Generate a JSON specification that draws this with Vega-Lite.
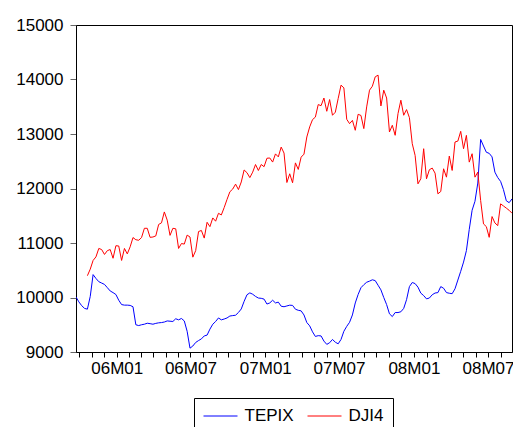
{
  "$schema": "https://vega.github.io/schema/vega-lite/v6.json",
  "autosize": {"type": "none"},
  "width": 436,
  "height": 327,
  "padding": {"left": 76, "top": 25, "right": 1, "bottom": 75},
  "background": "white",
  "config": {
    "view": {"stroke": "black", "strokeWidth": 1},
    "font": "Liberation Sans"
  },
  "data": {"values": [
    {"d":"2005-09-23","TEPIX":10010,"DJI4":null},
    {"d":"2005-09-30","TEPIX":9920,"DJI4":null},
    {"d":"2005-10-07","TEPIX":9850,"DJI4":null},
    {"d":"2005-10-14","TEPIX":9800,"DJI4":null},
    {"d":"2005-10-21","TEPIX":9786,"DJI4":10400},
    {"d":"2005-10-28","TEPIX":10020,"DJI4":10520},
    {"d":"2005-11-04","TEPIX":10420,"DJI4":10680},
    {"d":"2005-11-11","TEPIX":10350,"DJI4":10745},
    {"d":"2005-11-18","TEPIX":10290,"DJI4":10900},
    {"d":"2005-11-25","TEPIX":10265,"DJI4":10880},
    {"d":"2005-12-02","TEPIX":10240,"DJI4":10790},
    {"d":"2005-12-09","TEPIX":10180,"DJI4":10860},
    {"d":"2005-12-16","TEPIX":10120,"DJI4":10880},
    {"d":"2005-12-23","TEPIX":10090,"DJI4":10720},
    {"d":"2005-12-30","TEPIX":10055,"DJI4":10950},
    {"d":"2006-01-06","TEPIX":9950,"DJI4":10945},
    {"d":"2006-01-13","TEPIX":9870,"DJI4":10680},
    {"d":"2006-01-20","TEPIX":9860,"DJI4":10900},
    {"d":"2006-01-27","TEPIX":9860,"DJI4":10800},
    {"d":"2006-02-03","TEPIX":9855,"DJI4":10930},
    {"d":"2006-02-10","TEPIX":9830,"DJI4":11100},
    {"d":"2006-02-17","TEPIX":9500,"DJI4":11060},
    {"d":"2006-02-24","TEPIX":9485,"DJI4":11050},
    {"d":"2006-03-03","TEPIX":9500,"DJI4":11100},
    {"d":"2006-03-10","TEPIX":9510,"DJI4":11270},
    {"d":"2006-03-17","TEPIX":9528,"DJI4":11270},
    {"d":"2006-03-24","TEPIX":9520,"DJI4":11104},
    {"d":"2006-03-31","TEPIX":9510,"DJI4":11110},
    {"d":"2006-04-07","TEPIX":9525,"DJI4":11130},
    {"d":"2006-04-14","TEPIX":9535,"DJI4":11340},
    {"d":"2006-04-21","TEPIX":9540,"DJI4":11370},
    {"d":"2006-04-28","TEPIX":9550,"DJI4":11570},
    {"d":"2006-05-05","TEPIX":9570,"DJI4":11420},
    {"d":"2006-05-12","TEPIX":9565,"DJI4":11140},
    {"d":"2006-05-19","TEPIX":9560,"DJI4":11270},
    {"d":"2006-05-26","TEPIX":9610,"DJI4":11260},
    {"d":"2006-06-02","TEPIX":9590,"DJI4":10900},
    {"d":"2006-06-09","TEPIX":9615,"DJI4":10990},
    {"d":"2006-06-16","TEPIX":9570,"DJI4":10980},
    {"d":"2006-06-23","TEPIX":9380,"DJI4":11145},
    {"d":"2006-06-30","TEPIX":9070,"DJI4":11110},
    {"d":"2006-07-07","TEPIX":9110,"DJI4":10740},
    {"d":"2006-07-14","TEPIX":9175,"DJI4":10860},
    {"d":"2006-07-21","TEPIX":9210,"DJI4":11210},
    {"d":"2006-07-28","TEPIX":9240,"DJI4":11230},
    {"d":"2006-08-04","TEPIX":9295,"DJI4":11090},
    {"d":"2006-08-11","TEPIX":9310,"DJI4":11380},
    {"d":"2006-08-18","TEPIX":9420,"DJI4":11300},
    {"d":"2006-08-25","TEPIX":9510,"DJI4":11460},
    {"d":"2006-09-01","TEPIX":9560,"DJI4":11400},
    {"d":"2006-09-08","TEPIX":9625,"DJI4":11545},
    {"d":"2006-09-15","TEPIX":9590,"DJI4":11515},
    {"d":"2006-09-22","TEPIX":9605,"DJI4":11650},
    {"d":"2006-09-29","TEPIX":9625,"DJI4":11800},
    {"d":"2006-10-06","TEPIX":9660,"DJI4":11940},
    {"d":"2006-10-13","TEPIX":9668,"DJI4":11990},
    {"d":"2006-10-20","TEPIX":9675,"DJI4":12080},
    {"d":"2006-10-27","TEPIX":9725,"DJI4":11980},
    {"d":"2006-11-03","TEPIX":9790,"DJI4":12120},
    {"d":"2006-11-10","TEPIX":9930,"DJI4":12340},
    {"d":"2006-11-17","TEPIX":10050,"DJI4":12290},
    {"d":"2006-11-24","TEPIX":10085,"DJI4":12200},
    {"d":"2006-12-01","TEPIX":10060,"DJI4":12300},
    {"d":"2006-12-08","TEPIX":10020,"DJI4":12440},
    {"d":"2006-12-15","TEPIX":9990,"DJI4":12330},
    {"d":"2006-12-22","TEPIX":9985,"DJI4":12440},
    {"d":"2006-12-29","TEPIX":9970,"DJI4":12400},
    {"d":"2007-01-05","TEPIX":9880,"DJI4":12555},
    {"d":"2007-01-12","TEPIX":9900,"DJI4":12560},
    {"d":"2007-01-19","TEPIX":9950,"DJI4":12485},
    {"d":"2007-01-26","TEPIX":9900,"DJI4":12635},
    {"d":"2007-02-02","TEPIX":9915,"DJI4":12580},
    {"d":"2007-02-09","TEPIX":9840,"DJI4":12760},
    {"d":"2007-02-16","TEPIX":9830,"DJI4":12650},
    {"d":"2007-02-23","TEPIX":9845,"DJI4":12110},
    {"d":"2007-03-02","TEPIX":9859,"DJI4":12270},
    {"d":"2007-03-09","TEPIX":9855,"DJI4":12105},
    {"d":"2007-03-16","TEPIX":9785,"DJI4":12470},
    {"d":"2007-03-23","TEPIX":9765,"DJI4":12350},
    {"d":"2007-03-30","TEPIX":9755,"DJI4":12575},
    {"d":"2007-04-06","TEPIX":9680,"DJI4":12630},
    {"d":"2007-04-13","TEPIX":9540,"DJI4":12945},
    {"d":"2007-04-20","TEPIX":9480,"DJI4":13130},
    {"d":"2007-04-27","TEPIX":9370,"DJI4":13264},
    {"d":"2007-05-04","TEPIX":9285,"DJI4":13310},
    {"d":"2007-05-11","TEPIX":9300,"DJI4":13540},
    {"d":"2007-05-18","TEPIX":9295,"DJI4":13520},
    {"d":"2007-05-25","TEPIX":9200,"DJI4":13660},
    {"d":"2007-06-01","TEPIX":9140,"DJI4":13417},
    {"d":"2007-06-08","TEPIX":9170,"DJI4":13632},
    {"d":"2007-06-15","TEPIX":9230,"DJI4":13344},
    {"d":"2007-06-22","TEPIX":9180,"DJI4":13400},
    {"d":"2007-06-29","TEPIX":9150,"DJI4":13650},
    {"d":"2007-07-06","TEPIX":9230,"DJI4":13896},
    {"d":"2007-07-13","TEPIX":9380,"DJI4":13847},
    {"d":"2007-07-20","TEPIX":9470,"DJI4":13270},
    {"d":"2007-07-27","TEPIX":9545,"DJI4":13190},
    {"d":"2007-08-03","TEPIX":9680,"DJI4":13250},
    {"d":"2007-08-10","TEPIX":9900,"DJI4":13068},
    {"d":"2007-08-17","TEPIX":10055,"DJI4":13362},
    {"d":"2007-08-24","TEPIX":10180,"DJI4":13340},
    {"d":"2007-08-31","TEPIX":10235,"DJI4":13099},
    {"d":"2007-09-07","TEPIX":10280,"DJI4":13497},
    {"d":"2007-09-14","TEPIX":10300,"DJI4":13804},
    {"d":"2007-09-21","TEPIX":10325,"DJI4":13877},
    {"d":"2007-09-28","TEPIX":10310,"DJI4":14049},
    {"d":"2007-10-05","TEPIX":10225,"DJI4":14080},
    {"d":"2007-10-12","TEPIX":10140,"DJI4":13515},
    {"d":"2007-10-19","TEPIX":10000,"DJI4":13804},
    {"d":"2007-10-26","TEPIX":9870,"DJI4":13660},
    {"d":"2007-11-02","TEPIX":9700,"DJI4":13037},
    {"d":"2007-11-09","TEPIX":9650,"DJI4":13160},
    {"d":"2007-11-16","TEPIX":9724,"DJI4":12976},
    {"d":"2007-11-23","TEPIX":9724,"DJI4":13375},
    {"d":"2007-11-30","TEPIX":9738,"DJI4":13620},
    {"d":"2007-12-07","TEPIX":9800,"DJI4":13344},
    {"d":"2007-12-14","TEPIX":9960,"DJI4":13448},
    {"d":"2007-12-21","TEPIX":10200,"DJI4":13300},
    {"d":"2007-12-28","TEPIX":10275,"DJI4":12822},
    {"d":"2008-01-04","TEPIX":10255,"DJI4":12607},
    {"d":"2008-01-11","TEPIX":10190,"DJI4":12086},
    {"d":"2008-01-18","TEPIX":10080,"DJI4":12178},
    {"d":"2008-01-25","TEPIX":10035,"DJI4":12730},
    {"d":"2008-02-01","TEPIX":9975,"DJI4":12178},
    {"d":"2008-02-08","TEPIX":9990,"DJI4":12344},
    {"d":"2008-02-15","TEPIX":10050,"DJI4":12375},
    {"d":"2008-02-22","TEPIX":10082,"DJI4":12282},
    {"d":"2008-02-29","TEPIX":10090,"DJI4":11902},
    {"d":"2008-03-07","TEPIX":10200,"DJI4":11945},
    {"d":"2008-03-14","TEPIX":10170,"DJI4":12362},
    {"d":"2008-03-21","TEPIX":10090,"DJI4":12208},
    {"d":"2008-03-28","TEPIX":10078,"DJI4":12595},
    {"d":"2008-04-04","TEPIX":10070,"DJI4":12331},
    {"d":"2008-04-11","TEPIX":10160,"DJI4":12853},
    {"d":"2008-04-18","TEPIX":10320,"DJI4":12870},
    {"d":"2008-04-25","TEPIX":10480,"DJI4":13049},
    {"d":"2008-05-02","TEPIX":10650,"DJI4":12730},
    {"d":"2008-05-09","TEPIX":10860,"DJI4":12975},
    {"d":"2008-05-16","TEPIX":11250,"DJI4":12484},
    {"d":"2008-05-23","TEPIX":11600,"DJI4":12638},
    {"d":"2008-05-30","TEPIX":11765,"DJI4":12208},
    {"d":"2008-06-06","TEPIX":12100,"DJI4":12300},
    {"d":"2008-06-13","TEPIX":12900,"DJI4":11779},
    {"d":"2008-06-20","TEPIX":12780,"DJI4":11350},
    {"d":"2008-06-27","TEPIX":12665,"DJI4":11300},
    {"d":"2008-07-04","TEPIX":12645,"DJI4":11104},
    {"d":"2008-07-11","TEPIX":12580,"DJI4":11485},
    {"d":"2008-07-18","TEPIX":12300,"DJI4":11368},
    {"d":"2008-07-25","TEPIX":12200,"DJI4":11319},
    {"d":"2008-08-01","TEPIX":12130,"DJI4":11718},
    {"d":"2008-08-08","TEPIX":11980,"DJI4":11680},
    {"d":"2008-08-15","TEPIX":11775,"DJI4":11640},
    {"d":"2008-08-22","TEPIX":11740,"DJI4":11600},
    {"d":"2008-08-29","TEPIX":11810,"DJI4":11546}
  ]},
  "transform": [{"fold": ["TEPIX", "DJI4"], "as": ["series", "value"]}],
  "mark": {"type": "line", "strokeWidth": 1, "clip": true},
  "encoding": {
    "x": {
      "field": "d", "type": "temporal",
      "scale": {"type": "utc", "nice": false},
      "axis": {
        "title": null, "grid": false,
        "domainColor": "black", "tickColor": "black", "tickSize": 5,
        "tickCount": {"interval": "month", "step": 1},
        "labelExpr": "utcmonth(datum.value) % 6 == 0 ? utcFormat(datum.value, '%yM%m') : ''",
        "labelFontSize": 17, "labelColor": "black", "labelFont": "Liberation Sans",
        "labelPadding": 3, "labelOverlap": false, "labelFlush": false
      }
    },
    "y": {
      "field": "value", "type": "quantitative",
      "scale": {"domain": [9000, 15000], "nice": false, "zero": false},
      "axis": {
        "title": null, "grid": false, "format": "d",
        "values": [9000, 10000, 11000, 12000, 13000, 14000, 15000],
        "domainColor": "black", "tickColor": "#666666", "tickSize": 6,
        "labelFontSize": 17, "labelColor": "black", "labelFont": "Liberation Sans",
        "labelPadding": 7
      }
    },
    "color": {
      "field": "series", "type": "nominal",
      "scale": {"domain": ["TEPIX", "DJI4"], "range": ["#0000ff", "#ff0000"]},
      "legend": {
        "title": null, "orient": "none", "legendX": 118, "legendY": 373,
        "direction": "horizontal", "strokeColor": "black", "padding": 9,
        "symbolType": "M-2,0H2", "symbolSize": 289, "symbolStrokeWidth": 1,
        "symbolOffset": 8.5,
        "labelFontSize": 17, "labelFont": "Liberation Sans", "labelColor": "black",
        "labelOffset": 15, "columnPadding": 11
      }
    }
  }
}
